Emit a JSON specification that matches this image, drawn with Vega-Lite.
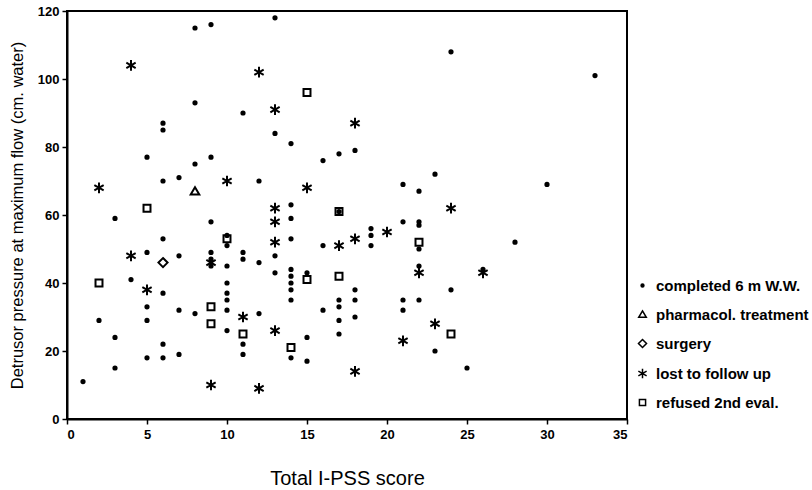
{
  "$schema": "https://vega.github.io/schema/vega-lite/v6.json",
  "autosize": "none",
  "width": 560,
  "height": 408,
  "padding": {"left": 67, "top": 11, "right": 185, "bottom": 71},
  "background": "white",
  "config": {
    "view": {"stroke": "black", "strokeWidth": 2},
    "axis": {
      "grid": false,
      "domainColor": "black",
      "domainWidth": 2,
      "tickColor": "black",
      "tickWidth": 1.5,
      "tickSize": 5,
      "labelColor": "black",
      "labelFont": "Liberation Sans",
      "labelFontWeight": "bold",
      "labelFontSize": 13,
      "titleColor": "black",
      "titleFont": "Liberation Sans",
      "titleFontWeight": "normal"
    }
  },
  "data": {
    "values": [
      {"ipss": 15, "pdet": 96, "group": "refused 2nd eval."},
      {"ipss": 5, "pdet": 62, "group": "refused 2nd eval."},
      {"ipss": 17, "pdet": 61, "group": "refused 2nd eval."},
      {"ipss": 10, "pdet": 53, "group": "refused 2nd eval."},
      {"ipss": 22, "pdet": 52, "group": "refused 2nd eval."},
      {"ipss": 2, "pdet": 40, "group": "refused 2nd eval."},
      {"ipss": 15, "pdet": 41, "group": "refused 2nd eval."},
      {"ipss": 17, "pdet": 42, "group": "refused 2nd eval."},
      {"ipss": 9, "pdet": 33, "group": "refused 2nd eval."},
      {"ipss": 9, "pdet": 28, "group": "refused 2nd eval."},
      {"ipss": 11, "pdet": 25, "group": "refused 2nd eval."},
      {"ipss": 24, "pdet": 25, "group": "refused 2nd eval."},
      {"ipss": 14, "pdet": 21, "group": "refused 2nd eval."},
      {"ipss": 8, "pdet": 67, "group": "pharmacol. treatment"},
      {"ipss": 6, "pdet": 46, "group": "surgery"},
      {"ipss": 4, "pdet": 104, "group": "lost to follow up"},
      {"ipss": 12, "pdet": 102, "group": "lost to follow up"},
      {"ipss": 13, "pdet": 91, "group": "lost to follow up"},
      {"ipss": 18, "pdet": 87, "group": "lost to follow up"},
      {"ipss": 10, "pdet": 70, "group": "lost to follow up"},
      {"ipss": 2, "pdet": 68, "group": "lost to follow up"},
      {"ipss": 15, "pdet": 68, "group": "lost to follow up"},
      {"ipss": 13, "pdet": 62, "group": "lost to follow up"},
      {"ipss": 24, "pdet": 62, "group": "lost to follow up"},
      {"ipss": 13, "pdet": 58, "group": "lost to follow up"},
      {"ipss": 13, "pdet": 52, "group": "lost to follow up"},
      {"ipss": 17, "pdet": 51, "group": "lost to follow up"},
      {"ipss": 18, "pdet": 53, "group": "lost to follow up"},
      {"ipss": 20, "pdet": 55, "group": "lost to follow up"},
      {"ipss": 4, "pdet": 48, "group": "lost to follow up"},
      {"ipss": 9, "pdet": 46, "group": "lost to follow up"},
      {"ipss": 5, "pdet": 38, "group": "lost to follow up"},
      {"ipss": 22, "pdet": 43, "group": "lost to follow up"},
      {"ipss": 26, "pdet": 43, "group": "lost to follow up"},
      {"ipss": 11, "pdet": 30, "group": "lost to follow up"},
      {"ipss": 23, "pdet": 28, "group": "lost to follow up"},
      {"ipss": 13, "pdet": 26, "group": "lost to follow up"},
      {"ipss": 21, "pdet": 23, "group": "lost to follow up"},
      {"ipss": 18, "pdet": 14, "group": "lost to follow up"},
      {"ipss": 9, "pdet": 10, "group": "lost to follow up"},
      {"ipss": 12, "pdet": 9, "group": "lost to follow up"},
      {"ipss": 8, "pdet": 115, "group": "completed 6 m W.W."},
      {"ipss": 9, "pdet": 116, "group": "completed 6 m W.W."},
      {"ipss": 13, "pdet": 118, "group": "completed 6 m W.W."},
      {"ipss": 24, "pdet": 108, "group": "completed 6 m W.W."},
      {"ipss": 33, "pdet": 101, "group": "completed 6 m W.W."},
      {"ipss": 8, "pdet": 93, "group": "completed 6 m W.W."},
      {"ipss": 11, "pdet": 90, "group": "completed 6 m W.W."},
      {"ipss": 6, "pdet": 87, "group": "completed 6 m W.W."},
      {"ipss": 6, "pdet": 85, "group": "completed 6 m W.W."},
      {"ipss": 13, "pdet": 84, "group": "completed 6 m W.W."},
      {"ipss": 14, "pdet": 81, "group": "completed 6 m W.W."},
      {"ipss": 18, "pdet": 79, "group": "completed 6 m W.W."},
      {"ipss": 17, "pdet": 78, "group": "completed 6 m W.W."},
      {"ipss": 5, "pdet": 77, "group": "completed 6 m W.W."},
      {"ipss": 9, "pdet": 77, "group": "completed 6 m W.W."},
      {"ipss": 16, "pdet": 76, "group": "completed 6 m W.W."},
      {"ipss": 8, "pdet": 75, "group": "completed 6 m W.W."},
      {"ipss": 23, "pdet": 72, "group": "completed 6 m W.W."},
      {"ipss": 6, "pdet": 70, "group": "completed 6 m W.W."},
      {"ipss": 7, "pdet": 71, "group": "completed 6 m W.W."},
      {"ipss": 12, "pdet": 70, "group": "completed 6 m W.W."},
      {"ipss": 21, "pdet": 69, "group": "completed 6 m W.W."},
      {"ipss": 30, "pdet": 69, "group": "completed 6 m W.W."},
      {"ipss": 22, "pdet": 67, "group": "completed 6 m W.W."},
      {"ipss": 3, "pdet": 59, "group": "completed 6 m W.W."},
      {"ipss": 14, "pdet": 63, "group": "completed 6 m W.W."},
      {"ipss": 14, "pdet": 59, "group": "completed 6 m W.W."},
      {"ipss": 17, "pdet": 61, "group": "completed 6 m W.W."},
      {"ipss": 9, "pdet": 58, "group": "completed 6 m W.W."},
      {"ipss": 21, "pdet": 58, "group": "completed 6 m W.W."},
      {"ipss": 22, "pdet": 58, "group": "completed 6 m W.W."},
      {"ipss": 22, "pdet": 57, "group": "completed 6 m W.W."},
      {"ipss": 19, "pdet": 56, "group": "completed 6 m W.W."},
      {"ipss": 19, "pdet": 54, "group": "completed 6 m W.W."},
      {"ipss": 6, "pdet": 53, "group": "completed 6 m W.W."},
      {"ipss": 10, "pdet": 54, "group": "completed 6 m W.W."},
      {"ipss": 14, "pdet": 53, "group": "completed 6 m W.W."},
      {"ipss": 28, "pdet": 52, "group": "completed 6 m W.W."},
      {"ipss": 16, "pdet": 51, "group": "completed 6 m W.W."},
      {"ipss": 19, "pdet": 51, "group": "completed 6 m W.W."},
      {"ipss": 10, "pdet": 51, "group": "completed 6 m W.W."},
      {"ipss": 22, "pdet": 50, "group": "completed 6 m W.W."},
      {"ipss": 5, "pdet": 49, "group": "completed 6 m W.W."},
      {"ipss": 7, "pdet": 48, "group": "completed 6 m W.W."},
      {"ipss": 9, "pdet": 49, "group": "completed 6 m W.W."},
      {"ipss": 9, "pdet": 47, "group": "completed 6 m W.W."},
      {"ipss": 9, "pdet": 45, "group": "completed 6 m W.W."},
      {"ipss": 11, "pdet": 49, "group": "completed 6 m W.W."},
      {"ipss": 11, "pdet": 47, "group": "completed 6 m W.W."},
      {"ipss": 13, "pdet": 48, "group": "completed 6 m W.W."},
      {"ipss": 12, "pdet": 46, "group": "completed 6 m W.W."},
      {"ipss": 10, "pdet": 45, "group": "completed 6 m W.W."},
      {"ipss": 14, "pdet": 44, "group": "completed 6 m W.W."},
      {"ipss": 13, "pdet": 43, "group": "completed 6 m W.W."},
      {"ipss": 15, "pdet": 43, "group": "completed 6 m W.W."},
      {"ipss": 22, "pdet": 45, "group": "completed 6 m W.W."},
      {"ipss": 26, "pdet": 44, "group": "completed 6 m W.W."},
      {"ipss": 14, "pdet": 42, "group": "completed 6 m W.W."},
      {"ipss": 4, "pdet": 41, "group": "completed 6 m W.W."},
      {"ipss": 14, "pdet": 40, "group": "completed 6 m W.W."},
      {"ipss": 10, "pdet": 40, "group": "completed 6 m W.W."},
      {"ipss": 14, "pdet": 38, "group": "completed 6 m W.W."},
      {"ipss": 24, "pdet": 38, "group": "completed 6 m W.W."},
      {"ipss": 18, "pdet": 38, "group": "completed 6 m W.W."},
      {"ipss": 6, "pdet": 37, "group": "completed 6 m W.W."},
      {"ipss": 10, "pdet": 37, "group": "completed 6 m W.W."},
      {"ipss": 10, "pdet": 35, "group": "completed 6 m W.W."},
      {"ipss": 14, "pdet": 35, "group": "completed 6 m W.W."},
      {"ipss": 17, "pdet": 35, "group": "completed 6 m W.W."},
      {"ipss": 18, "pdet": 35, "group": "completed 6 m W.W."},
      {"ipss": 21, "pdet": 35, "group": "completed 6 m W.W."},
      {"ipss": 22, "pdet": 35, "group": "completed 6 m W.W."},
      {"ipss": 5, "pdet": 33, "group": "completed 6 m W.W."},
      {"ipss": 17, "pdet": 33, "group": "completed 6 m W.W."},
      {"ipss": 7, "pdet": 32, "group": "completed 6 m W.W."},
      {"ipss": 10, "pdet": 32, "group": "completed 6 m W.W."},
      {"ipss": 16, "pdet": 32, "group": "completed 6 m W.W."},
      {"ipss": 21, "pdet": 32, "group": "completed 6 m W.W."},
      {"ipss": 8, "pdet": 31, "group": "completed 6 m W.W."},
      {"ipss": 12, "pdet": 31, "group": "completed 6 m W.W."},
      {"ipss": 18, "pdet": 30, "group": "completed 6 m W.W."},
      {"ipss": 2, "pdet": 29, "group": "completed 6 m W.W."},
      {"ipss": 5, "pdet": 29, "group": "completed 6 m W.W."},
      {"ipss": 17, "pdet": 29, "group": "completed 6 m W.W."},
      {"ipss": 10, "pdet": 26, "group": "completed 6 m W.W."},
      {"ipss": 17, "pdet": 25, "group": "completed 6 m W.W."},
      {"ipss": 3, "pdet": 24, "group": "completed 6 m W.W."},
      {"ipss": 15, "pdet": 24, "group": "completed 6 m W.W."},
      {"ipss": 6, "pdet": 22, "group": "completed 6 m W.W."},
      {"ipss": 11, "pdet": 22, "group": "completed 6 m W.W."},
      {"ipss": 11, "pdet": 19, "group": "completed 6 m W.W."},
      {"ipss": 23, "pdet": 20, "group": "completed 6 m W.W."},
      {"ipss": 5, "pdet": 18, "group": "completed 6 m W.W."},
      {"ipss": 6, "pdet": 18, "group": "completed 6 m W.W."},
      {"ipss": 7, "pdet": 19, "group": "completed 6 m W.W."},
      {"ipss": 14, "pdet": 18, "group": "completed 6 m W.W."},
      {"ipss": 15, "pdet": 17, "group": "completed 6 m W.W."},
      {"ipss": 3, "pdet": 15, "group": "completed 6 m W.W."},
      {"ipss": 25, "pdet": 15, "group": "completed 6 m W.W."},
      {"ipss": 1, "pdet": 11, "group": "completed 6 m W.W."}
    ]
  },
  "mark": {"type": "point", "size": 115, "stroke": "black", "strokeWidth": 2, "opacity": 1},
  "encoding": {
    "x": {
      "field": "ipss", "type": "quantitative",
      "scale": {"domain": [0, 35], "nice": false, "zero": true},
      "axis": {"values": [0, 5, 10, 15, 20, 25, 30, 35], "title": "Total I-PSS score", "titleFontSize": 20, "titlePadding": 27, "labelPadding": 4, "labelFontWeight": "bold", "labelFontSize": 13}
    },
    "y": {
      "field": "pdet", "type": "quantitative",
      "scale": {"domain": [0, 120], "nice": false},
      "axis": {"values": [0, 20, 40, 60, 80, 100, 120], "title": "Detrusor pressure at maximum flow (cm. water)", "titleFontSize": 16.5, "titlePadding": 12, "labelPadding": 3, "labelFontWeight": "bold", "labelFontSize": 13}
    },
    "shape": {
      "field": "group", "type": "nominal",
      "scale": {
        "domain": ["completed 6 m W.W.", "pharmacol. treatment", "surgery", "lost to follow up", "refused 2nd eval."],
        "range": [
          "M-0.3,0A0.3,0.3,0,1,0,0.3,0A0.3,0.3,0,1,0,-0.3,0Z",
          "M0,-0.75L0.8,0.6L-0.8,0.6Z",
          "M0,-0.85L0.85,0L0,0.85L-0.85,0Z",
          "M0,-1L0,1M-0.87,-0.5L0.87,0.5M-0.87,0.5L0.87,-0.5",
          "M-0.65,-0.65L0.65,-0.65L0.65,0.65L-0.65,0.65Z"
        ]
      },
      "legend": {
        "title": null,
        "orient": "none",
        "legendX": 568,
        "legendY": 267,
        "symbolSize": 90,
        "labelFont": "Liberation Sans",
        "labelFontWeight": "bold",
        "labelFontSize": 15,
        "labelColor": "black",
        "labelOffset": 6,
        "rowPadding": 13,
        "encode": {
          "symbols": {"update": {"stroke": {"value": "black"}, "strokeWidth": {"value": 1.6}, "opacity": {"value": 1}}}
        }
      }
    },
    "fill": {
      "field": "group", "type": "nominal",
      "scale": {
        "domain": ["completed 6 m W.W.", "pharmacol. treatment", "surgery", "lost to follow up", "refused 2nd eval."],
        "range": ["black", "transparent", "transparent", "transparent", "transparent"]
      },
      "legend": {
        "title": null,
        "orient": "none",
        "legendX": 568,
        "legendY": 267
      }
    }
  }
}
